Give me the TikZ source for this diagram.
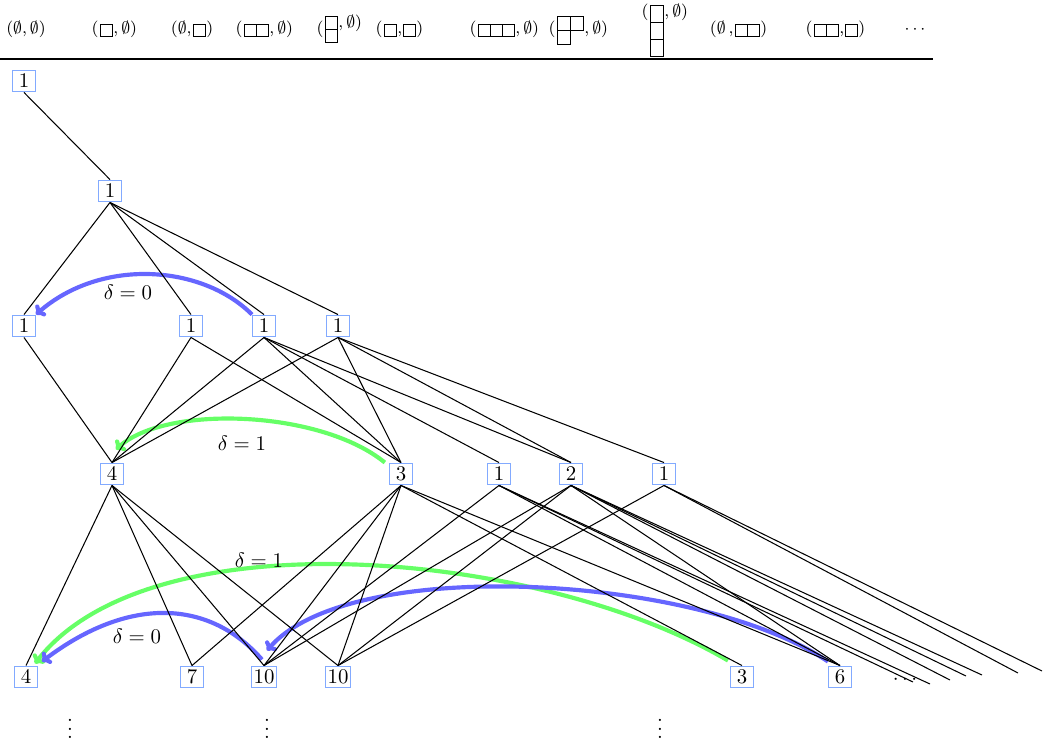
\documentclass[tikz,border=0pt]{standalone}
\usetikzlibrary{arrows.meta}
\definecolor{nodeblue}{RGB}{130,170,255}
\begin{document}
\begin{tikzpicture}[x=0.48pt,y=-0.48pt,
  v/.style={draw=nodeblue, line width=0.5pt, minimum width=11pt, minimum height=10.5pt, inner sep=0.8pt},
  e/.style={line width=0.5pt},
  arcb/.style={draw=blue!60, line width=2pt, -{To[length=4pt,width=7pt]}},
  arcg/.style={draw=green!60, line width=2pt, -{To[length=4pt,width=7pt]}},
  cellst/.style={line width=0.4pt},
  hd/.style={font=\footnotesize, inner sep=0pt},
  lab/.style={inner sep=1pt}]
\useasboundingbox (0,0) rectangle (1043,742);

% ---------- header ----------
\node[hd, anchor=base] (h1) at (26,33) {$(\emptyset,\emptyset)$};
% (box, empty)
\draw[cellst] (100,24) rectangle (112,36);
\node[hd, anchor=base east] (h2a) at (99,33) {$($};
\node[hd, anchor=base west] (h2b) at (113,33) {$,\emptyset)$};
% (empty, box)
\node[hd, anchor=base east] (h3a) at (192,33) {$(\emptyset,$};
\draw[cellst] (193,24) rectangle (205,36);
\node[hd, anchor=base west] (h3b) at (206,33) {$)$};
% (2, empty)
\node[hd, anchor=base east] (h4a) at (243,33) {$($};
\draw[cellst] (244,24) rectangle (256,36) (256,24) rectangle (268,36);
\node[hd, anchor=base west] (h4b) at (269,33) {$,\emptyset)$};
% (11, empty)
\node[hd, anchor=base east] (h5a) at (324,33) {$($};
\draw[cellst] (325,16) rectangle (337,29) (325,29) rectangle (337,42);
\node[hd, anchor=base west] (h5b) at (338,27) {$,\emptyset)$};
% (1,1)
\node[hd, anchor=base east] (h6a) at (383,33) {$($};
\draw[cellst] (384,24) rectangle (396,36);
\node[hd, anchor=base west] (h6b) at (397,33) {$,$};
\draw[cellst] (403,24) rectangle (415,36);
\node[hd, anchor=base west] (h6c) at (416,33) {$)$};
% (3, empty)
\node[hd, anchor=base east] (h7a) at (477,33) {$($};
\draw[cellst] (478,24) rectangle (490,36) (490,24) rectangle (502,36) (502,24) rectangle (514,36);
\node[hd, anchor=base west] (h7b) at (515,33) {$,\emptyset)$};
% (21, empty)
\node[hd, anchor=base east] (h8a) at (556,33) {$($};
\draw[cellst] (557,16) rectangle (570,30) (570,16) rectangle (583,30) (557,30) rectangle (570,44);
\node[hd, anchor=base west] (h8b) at (584,33) {$,\emptyset)$};
% (111, empty)
\node[hd, anchor=base east] (h9a) at (649,16) {$($};
\draw[cellst] (650,5) rectangle (663,22) (650,22) rectangle (663,39) (650,39) rectangle (663,56);
\node[hd, anchor=base west] (h9b) at (664,16) {$,\emptyset)$};
% (empty, 2)
\node[hd, anchor=base east] (h10a) at (734,33) {$(\emptyset\,,$};
\draw[cellst] (735,24) rectangle (747,36) (747,24) rectangle (759,36);
\node[hd, anchor=base west] (h10b) at (760,33) {$)$};
% (2, 1)
\node[hd, anchor=base east] (h11a) at (813,33) {$($};
\draw[cellst] (814,24) rectangle (826,36) (826,24) rectangle (838,36);
\node[hd, anchor=base west] (h11b) at (839,33) {$,$};
\draw[cellst] (845,24) rectangle (857,36);
\node[hd, anchor=base west] (h11c) at (858,33) {$)$};
\node[hd, anchor=base] (h12) at (915,33) {$\cdots$};

\draw[line width=0.9pt] (0,59) -- (933,59);

% ---------- vertices ----------
\node[v] (A) at (24,81) {$1$};
\node[v] (B) at (110,191) {$1$};
\node[v] (C1) at (24,326) {$1$};
\node[v] (C2) at (191,326) {$1$};
\node[v] (C3) at (264,326) {$1$};
\node[v] (C4) at (338,326) {$1$};
\node[v] (D1) at (112,474) {$4$};
\node[v] (D2) at (401,474) {$3$};
\node[v] (D3) at (499,474) {$1$};
\node[v] (D4) at (571,474) {$2$};
\node[v] (D5) at (664,474) {$1$};
\node[v] (E1) at (26,677) {$4$};
\node[v] (E2) at (192,677) {$7$};
\node[v] (E3) at (264,677) {$10$};
\node[v] (E4) at (338,677) {$10$};
\node[v] (E5) at (742,677) {$3$};
\node[v] (E6) at (840,677) {$6$};
\node[lab] (dots) at (905,680) {$\cdots$};
\node[lab, anchor=south] (vd1) at (70,741) {$\vdots$};
\node[lab, anchor=south] (vd2) at (267,741) {$\vdots$};
\node[lab, anchor=south] (vd3) at (660,741) {$\vdots$};

\coordinate (F1) at (913,682);
\coordinate (F2) at (930,684);
\coordinate (F3) at (950,680);
\coordinate (F4) at (966,676);
\coordinate (F5) at (982,675);
\coordinate (F6) at (1018,673);
\coordinate (F7) at (1042,671);

% ---------- delta arcs ----------
\draw[arcb] (C3.north west) .. controls +(-50,-50) and +(65,-57) .. (C1.north east);
\node[lab] (l1) at (128,292) {$\delta=0$};
\draw[arcg] ([xshift=-2]D2.north west) .. controls +(-65,-53) and +(49,-45) .. ([shift={(4,-13)}]D1.north);
\node[lab] (l2) at (242,443) {$\delta=1$};
\draw[arcg] ([shift={(-2,-5)}]E5.north west) .. controls (540,550) and (150,515) .. ([shift={(-3,-2)}]E1.north east);
\node[lab] (l3) at (259,560) {$\delta=1$};
\draw[arcb] ([shift={(-2,-6)}]E3.north) .. controls (210,600) and (130,595) .. ([shift={(4,-4)}]E1.north east);
\node[lab] (l4) at (137,636) {$\delta=0$};
\draw[arcb] ([shift={(-12,-4)}]E6.north) .. controls +(-128,-87) and +(83,-96) .. ([shift={(3,-15)}]E3.north);

% ---------- edges ----------
\draw[e] (A.south) -- (B.north);
\foreach \t in {C1,C2,C3,C4} \draw[e] (B.south) -- (\t.north);
\draw[e] (C1.south) -- (D1.north);
\foreach \t in {D1,D2} \draw[e] (C2.south) -- (\t.north);
\foreach \t in {D1,D2,D3,D4} \draw[e] (C3.south) -- (\t.north);
\foreach \t in {D1,D2,D4,D5} \draw[e] (C4.south) -- (\t.north);
\foreach \t in {E1,E2,E3,E4} \draw[e] (D1.south) -- (\t.north);
\foreach \t in {E2,E3,E4,E5,E6} \draw[e] (D2.south) -- (\t.north);
\foreach \t in {E3,E6} \draw[e] (D3.south) -- (\t.north);
\foreach \t in {F1,F2} \draw[e] (D3.south) -- (\t);
\foreach \t in {E3,E4,E6} \draw[e] (D4.south) -- (\t.north);
\foreach \t in {F3,F4,F5} \draw[e] (D4.south) -- (\t);
\draw[e] (D5.south) -- (E4.north);
\foreach \t in {F6,F7} \draw[e] (D5.south) -- (\t);
\end{tikzpicture}
\end{document}
